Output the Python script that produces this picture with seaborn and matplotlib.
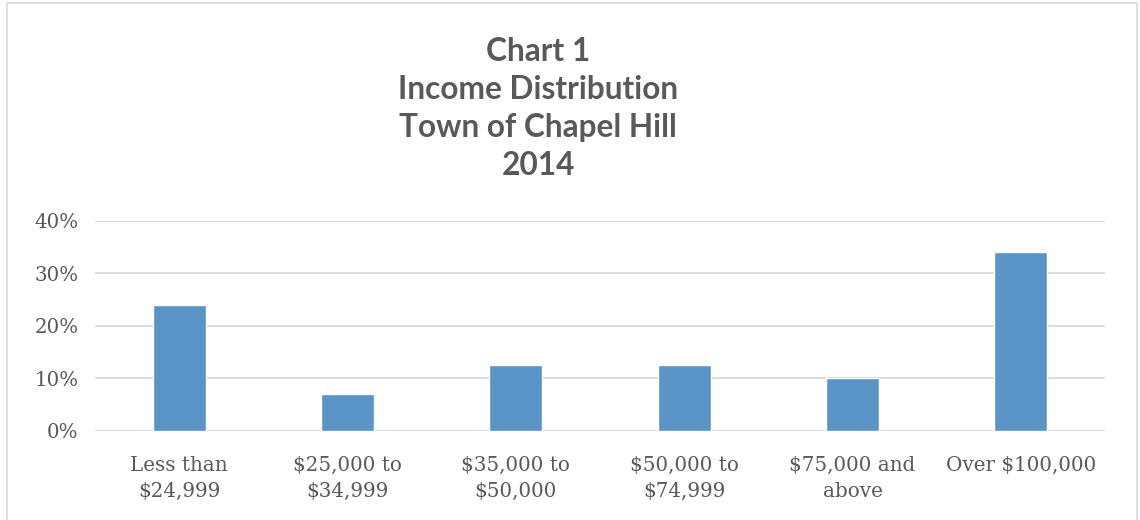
import matplotlib
matplotlib.use("Agg")
import matplotlib.pyplot as plt
import seaborn as sns
import pandas as pd
from matplotlib.ticker import PercentFormatter
from matplotlib.patches import Rectangle

# income brackets and share of households
brackets = ["Less than\n$24,999", "$25,000 to\n$34,999", "$35,000 to\n$50,000",
            "$50,000 to\n$74,999", "$75,000 and\nabove", "Over $100,000"]
shares = [0.24, 0.07, 0.125, 0.125, 0.10, 0.34]
title_lines = ["Chart 1", "Income Distribution", "Town of Chapel Hill", "2014"]

df = pd.DataFrame({"bracket": brackets, "share": shares})

sns.set_style("white")
fig = plt.figure(figsize=(11.4, 5.2), dpi=100)
ax = fig.add_axes([95 / 1140, 1 - 431 / 520, 1010 / 1140, (431 - 220.7) / 520])

sns.barplot(data=df, x="bracket", y="share", color="#5b95c8", width=0.315,
            saturation=1, ax=ax, zorder=3)

ax.set_ylim(0, 0.4)
ax.set_yticks([0, 0.1, 0.2, 0.3, 0.4])
ax.yaxis.set_major_formatter(PercentFormatter(1.0, decimals=0))
ax.grid(axis="y", color="#d9d9d9", linewidth=1.3, zorder=0)
ax.set_axisbelow(True)
for s in ax.spines.values():
    s.set_visible(False)
ax.set_xlabel("")
ax.set_ylabel("")
ax.tick_params(axis="both", length=0, labelcolor="#595959", labelsize=14.3)
ax.tick_params(axis="y", pad=12)
ax.tick_params(axis="x", pad=18)
for lab in ax.get_xticklabels() + ax.get_yticklabels():
    lab.set_fontfamily("DejaVu Serif")
for lab in ax.get_xticklabels():
    lab.set_linespacing(1.45)

fig.text(538 / 1140, 1 - 37 / 520, "\n".join(title_lines), ha="center", va="top",
         fontsize=22.8, fontweight="bold", color="#595959", family="Lato",
         linespacing=1.38)

# light frame round the chart area
fig.patches.append(Rectangle((7 / 1140, -0.01), 1130 / 1140, 1 - 3 / 520 + 0.01,
                             transform=fig.transFigure, fill=False,
                             edgecolor="#d9d9d9", linewidth=1.2))

fig.savefig("out.png", dpi=100)
